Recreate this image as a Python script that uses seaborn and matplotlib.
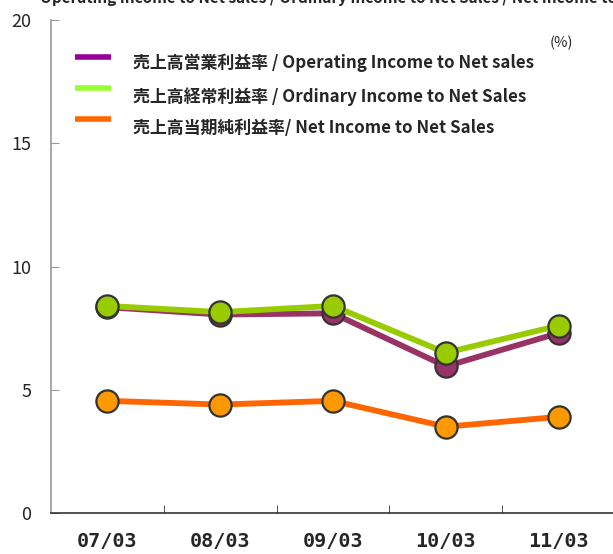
"""
売上高利益率の推移 (07/03 - 11/03)
"""

import matplotlib
matplotlib.use("Agg")
import matplotlib.pyplot as plt
from matplotlib.ticker import FixedLocator
import seaborn as sns

# データ
periods = ["07/03", "08/03", "09/03", "10/03", "11/03"]
operating_margin = [8.35, 8.05, 8.1, 5.95, 7.3]
ordinary_margin = [8.4, 8.15, 8.4, 6.5, 7.6]
net_margin = [4.55, 4.4, 4.55, 3.5, 3.9]

legend_labels = [
    "売上高営業利益率 / Operating Income to Net sales",
    "売上高経常利益率 / Ordinary Income to Net Sales",
    "売上高当期純利益率/ Net Income to Net Sales",
]
legend_colors = ["#990099", "#99FF33", "#FF6600"]

sns.set_style("white")
plt.rcParams["font.family"] = ["Noto Sans CJK JP", "DejaVu Sans"]

fig = plt.figure(figsize=(6.13, 5.54), dpi=100)
ax = fig.add_axes([51 / 613, 41 / 554, 564 / 613, 493 / 554])

series = [
    (operating_margin, "#993366", "#993366"),
    (ordinary_margin, "#99CC00", "#99CC00"),
    (net_margin, "#FF6600", "#FF9900"),
]
for values, line_c, face_c in series:
    sns.lineplot(x=periods, y=values, ax=ax, color=line_c, linewidth=4.2,
                 marker="o", markersize=16, markerfacecolor=face_c,
                 markeredgecolor="#333333", markeredgewidth=1.6)

ax.set_xlim(-0.5, 4.5)
ax.set_ylim(0, 20)
ax.set_yticks([0, 5, 10, 15, 20])
ax.tick_params(axis="y", direction="in", length=6, color="#999999",
               labelsize=13, pad=14, left=True)
ax.set_xticks(range(len(periods)))
ax.set_xticklabels(periods, family="DejaVu Sans Mono", fontweight="bold",
                   fontsize=14.5)
ax.tick_params(axis="x", which="major", length=0, pad=14)
ax.xaxis.set_minor_locator(FixedLocator([0.5, 1.5, 2.5, 3.5]))
ax.tick_params(axis="x", which="minor", direction="in", length=6,
               color="#333333", bottom=True)
ax.set_xlabel("")
ax.set_ylabel("")

for side in ["top", "right"]:
    ax.spines[side].set_visible(False)
ax.spines["left"].set_color("#999999")
ax.spines["left"].set_linewidth(1.2)
ax.spines["bottom"].set_color("#333333")
ax.spines["bottom"].set_linewidth(1.2)

# 凡例 (手書き)
W, H = 613, 554
handle_y = [57, 88, 119]
text_y = [63, 97, 128]
for label, color, hy, ty in zip(legend_labels, legend_colors, handle_y, text_y):
    fig.add_artist(plt.Line2D([75 / W, 111 / W], [1 - hy / H, 1 - hy / H],
                              color=color, linewidth=4, solid_capstyle="butt",
                              transform=fig.transFigure))
    fig.text(133 / W, 1 - ty / H, label, fontsize=12.2, fontweight="bold",
             va="center", ha="left")

fig.text(561 / W, 1 - 43 / H, "(%)", fontsize=10.5, ha="center", va="center")

# 上部で切れたタイトル
fig.text(40 / W, 1 - 3 / H,
         "Operating Income to Net sales / Ordinary Income to Net Sales / Net Income to Net Sales",
         fontsize=11, fontweight="bold", ha="left", va="baseline")

fig.savefig("out.png", dpi=100)
